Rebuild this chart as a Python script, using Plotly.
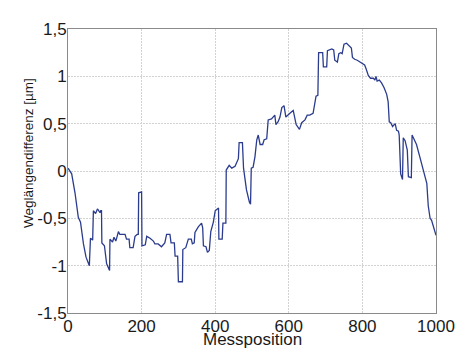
import plotly.graph_objects as go

# Messposition (x) and Weglängendifferenz in µm (y)
pos = [0, 10, 19, 28, 34, 42, 49, 58, 61, 65, 67, 69, 75, 80, 87, 89, 91, 92, 99, 105, 112, 113,
       114, 121, 125, 130, 137, 141, 155, 159, 166, 168, 177, 182, 188, 191, 192, 200, 201,
       210, 214, 223, 232, 236, 245, 254, 263, 268, 277, 280, 289, 291, 298, 300, 311, 312,
       320, 327, 335, 338, 343, 345, 354, 363, 366, 368, 375, 379, 384, 388, 395, 400, 409,
       410, 419, 421, 429, 430, 438, 445, 454, 463, 465, 474, 477, 485, 493, 496, 498, 503,
       508, 513, 517, 522, 529, 533, 540, 544, 553, 562, 565, 571, 576, 581, 587, 592, 603,
       612, 620, 629, 635, 644, 650, 657, 666, 674, 679, 681, 692, 694, 703, 705, 717, 722,
       725, 732, 736, 741, 745, 750, 757, 764, 770, 773, 779, 786, 793, 800, 806, 810, 816,
       822, 830, 834, 837, 840, 846, 852, 859, 866, 870, 873, 877, 882, 886, 889, 893, 898,
       900, 904, 909, 911, 916, 922, 925, 933, 935, 938, 947, 956, 965, 975, 979, 984, 988,
       993, 1000]
diff = [0.03, -0.03, -0.23, -0.49, -0.54, -0.77, -0.91, -1.0, -0.71, -0.73, -0.73, -0.42, -0.45,
        -0.40, -0.44, -0.42, -0.42, -0.76, -0.79, -0.98, -1.05, -1.05,
        -0.72, -0.75, -0.70, -0.74, -0.64, -0.67, -0.67, -0.72, -0.72, -0.81, -0.81, -0.69,
        -0.67, -0.67, -0.23, -0.22, -0.79,
        -0.78, -0.69, -0.71, -0.74, -0.77, -0.77, -0.80, -0.76, -0.67, -0.67, -0.76, -0.76,
        -0.90, -0.90, -1.17, -1.17, -0.83,
        -0.81, -0.72, -0.72, -0.77, -0.76, -0.65, -0.59, -0.55, -0.60, -0.79, -0.80, -0.86,
        -0.84, -0.64, -0.54, -0.42, -0.39,
        -0.72, -0.72, -0.55, -0.55, 0.01, 0.06, 0.03, 0.05, 0.13, 0.30, 0.30, 0.03, -0.20,
        -0.33, -0.35, 0.03, 0.04,
        0.15, 0.33, 0.38, 0.28, 0.28, 0.33, 0.34, 0.54, 0.55, 0.59, 0.49, 0.52, 0.57, 0.67,
        0.69, 0.57, 0.61,
        0.64, 0.49, 0.44, 0.51, 0.54, 0.59, 0.59, 0.61, 0.79, 0.80, 1.25, 1.25, 1.10, 1.10,
        1.27, 1.29, 1.28,
        1.17, 1.15, 1.24, 1.25, 1.24, 1.34, 1.35, 1.32, 1.30, 1.20, 1.18, 1.17, 1.15, 1.13,
        1.12, 1.08, 1.01,
        0.98, 0.98, 0.96, 1.00, 0.95, 0.96, 0.93, 0.88, 0.81, 0.73, 0.52, 0.51, 0.47, 0.49,
        0.50, 0.43, 0.42,
        0.38, -0.03, -0.09, 0.35, 0.32, 0.22, -0.06, -0.07, 0.38, 0.35, 0.28, 0.15, 0.01,
        -0.13, -0.37, -0.50, -0.52,
        -0.59, -0.68]

x_ticks = [0, 200, 400, 600, 800, 1000]
x_tick_labels = ["0", "200", "400", "600", "800", "1000"]
y_ticks = [-1.5, -1, -0.5, 0, 0.5, 1, 1.5]
y_tick_labels = ["-1,5", "-1", "-0,5", "0", "0,5", "1", "1,5"]

font = "Liberation Sans, Arial, sans-serif"

fig = go.Figure()
fig.add_trace(go.Scatter(x=pos, y=diff, mode="lines",
                         line=dict(color="#2b3c8e", width=1.3)))

axis_common = dict(showline=True, linecolor="#8a8a8a", linewidth=1, mirror=True,
                   showgrid=True, gridcolor="#d2d2d2", griddash="2px,1px", gridwidth=1,
                   zeroline=False, ticks="", tickfont=dict(family=font, size=17, color="#1a1a1a"))

fig.update_xaxes(range=[0, 1000], tickvals=x_ticks, ticktext=x_tick_labels,
                 ticklabelstandoff=-2, **axis_common)
fig.update_yaxes(range=[-1.5, 1.5], tickvals=y_ticks, ticktext=y_tick_labels,
                 ticklabelstandoff=-3, **axis_common)

fig.add_annotation(text="Messposition", xref="paper", yref="paper", x=0.5, y=-0.094,
                   xanchor="center", yanchor="middle", showarrow=False,
                   font=dict(family=font, size=17, color="#1a1a1a"))
fig.add_annotation(text="Weglängendifferenz [µm]", xref="paper", yref="paper",
                   x=-0.109, y=0.563, textangle=-90, xanchor="center", yanchor="middle",
                   showarrow=False, font=dict(family=font, size=13.5, color="#1a1a1a"))

fig.update_layout(width=465, height=340, margin=dict(l=60, r=37, t=13, b=34),
                  plot_bgcolor="white", paper_bgcolor="white", showlegend=False)

fig.write_html("out.html")
